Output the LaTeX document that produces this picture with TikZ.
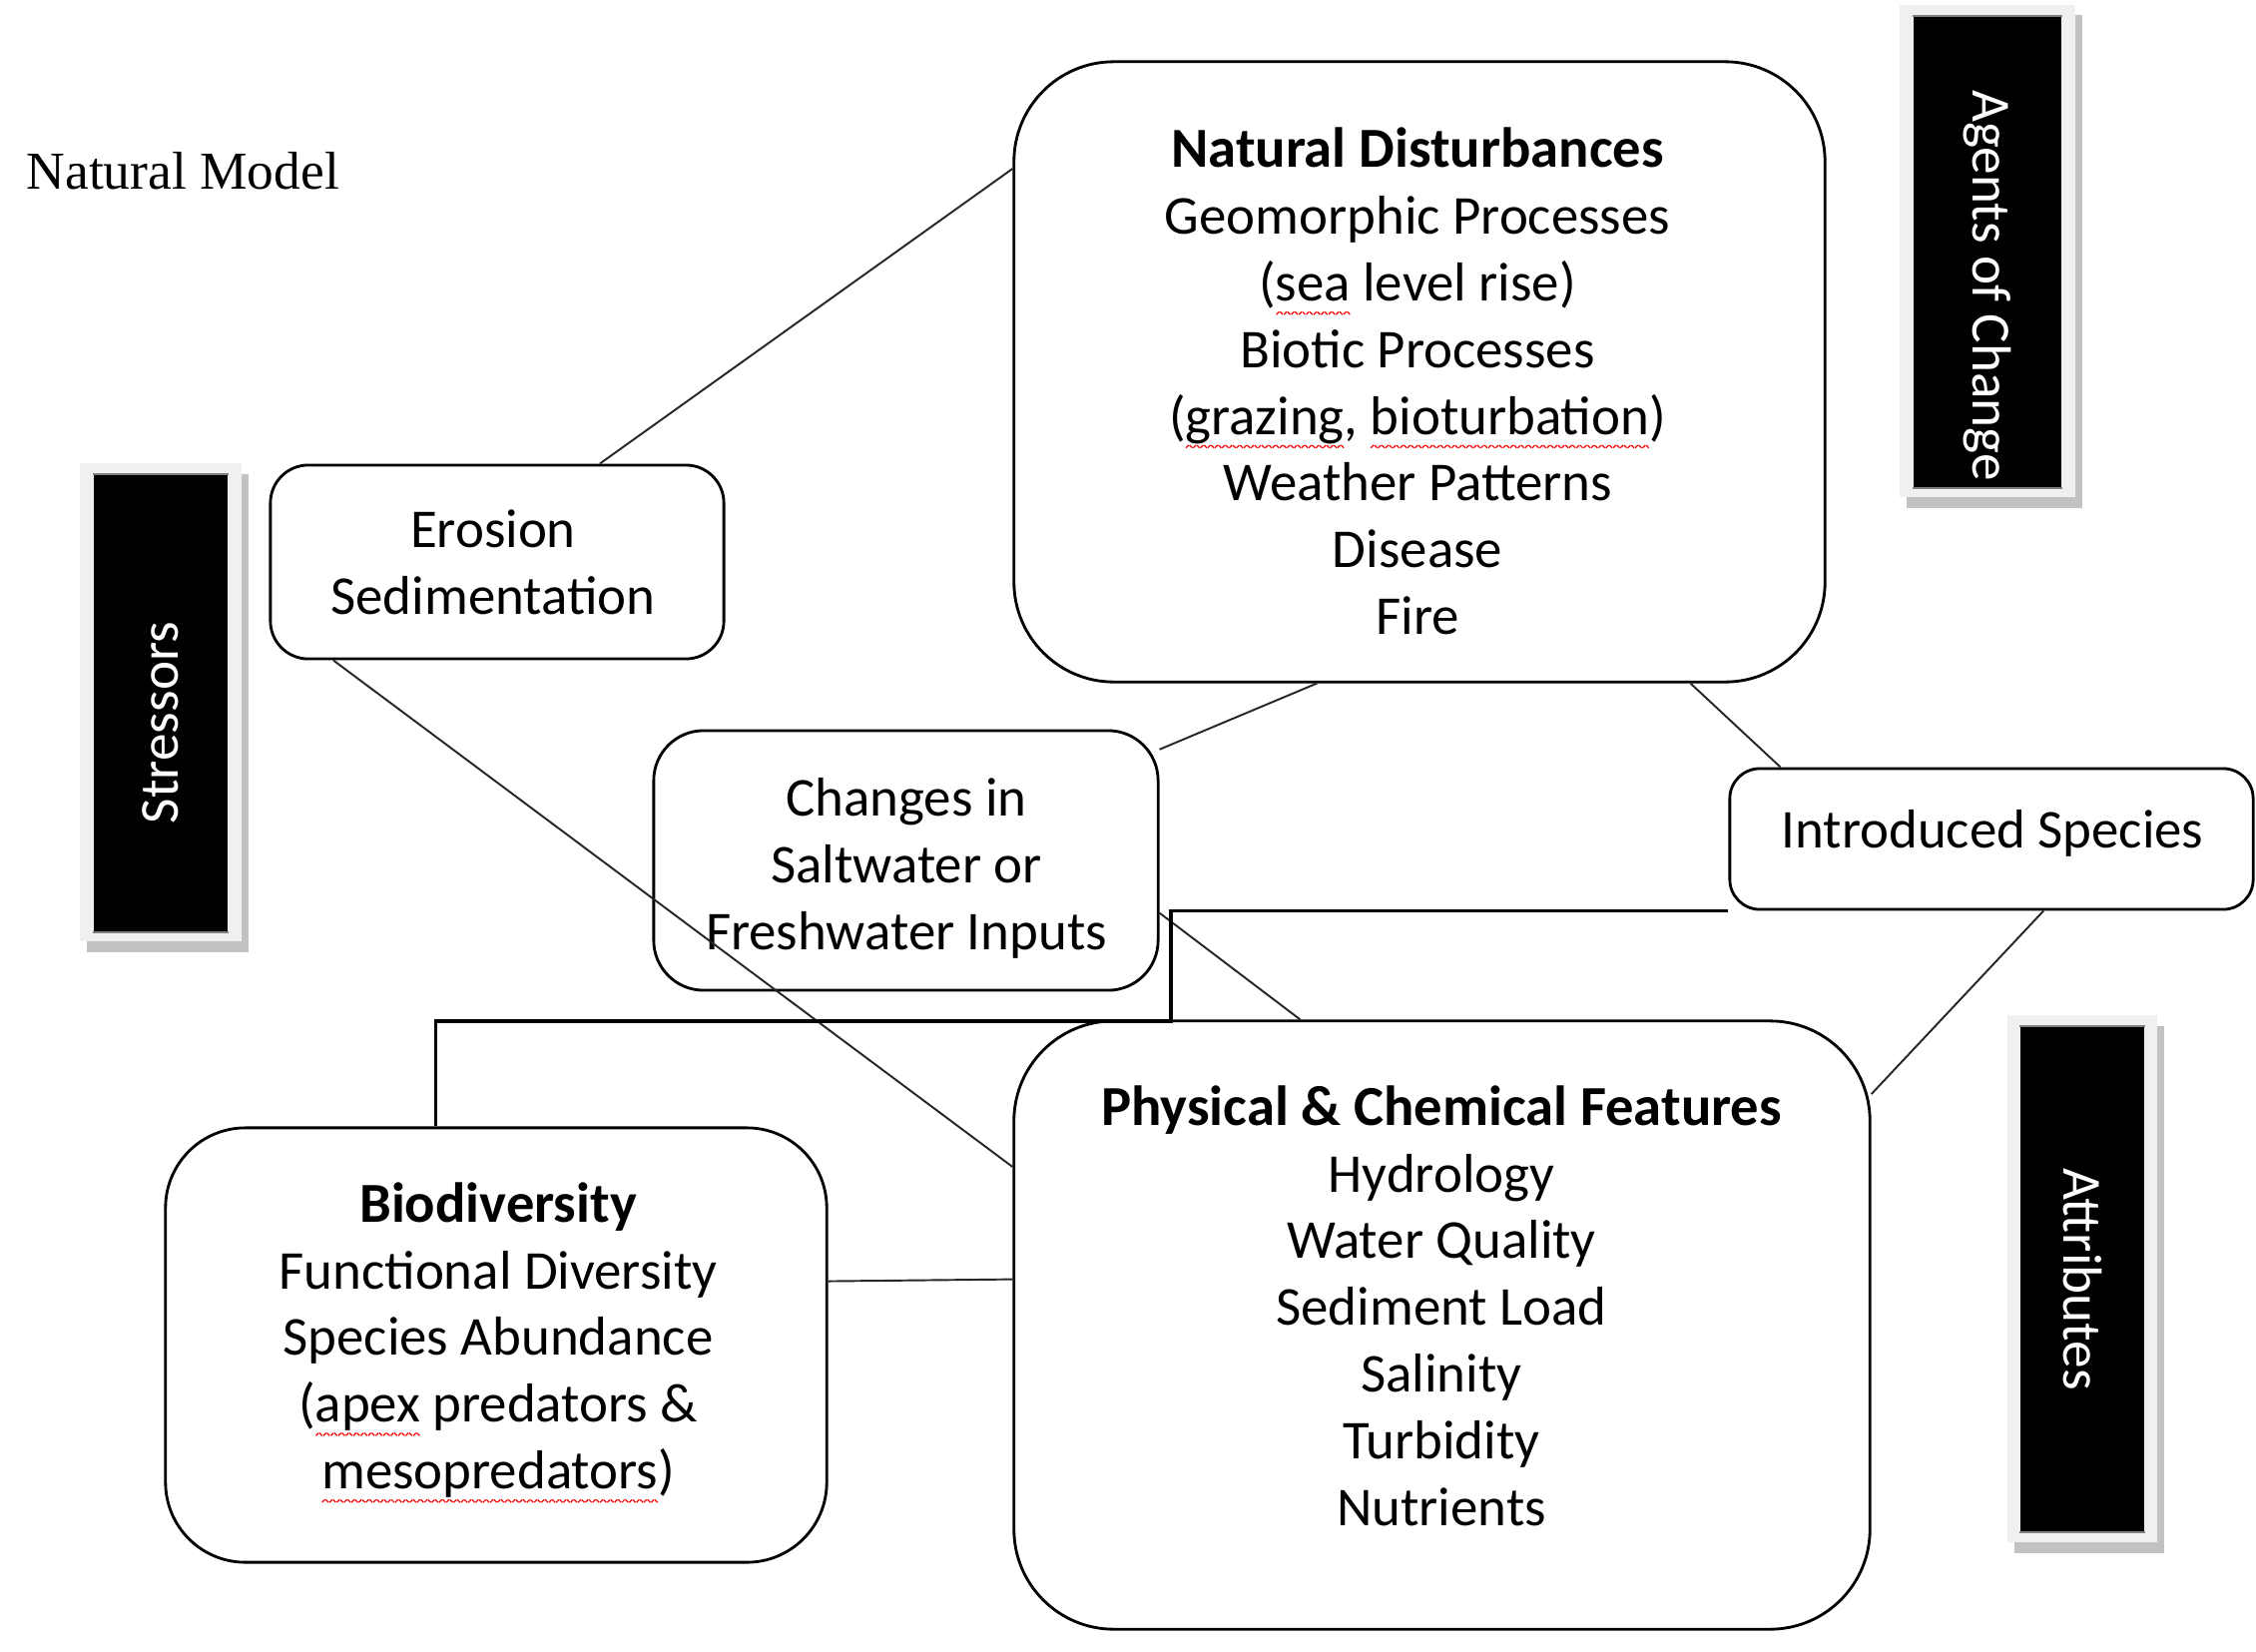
\documentclass[tikz,border=0pt]{standalone}
\usepackage{fontspec}
\setmainfont{Carlito}
\newfontfamily\timesf{Liberation Serif}
\usetikzlibrary{calc}
\newsavebox\wavebox
\newsavebox\sqbox
\newcommand\wavepiece{\rule{1.1pt}{0.35pt}}
\newcommand\sqg[1]{\sbox\sqbox{#1}\leavevmode\rlap{\raisebox{-4pt}{\hbox to\wd\sqbox{\xleaders\copy\wavebox\hfill}}}\usebox\sqbox}
\newcommand\hd[1]{{\fontsize{16.1}{19}\selectfont\bfseries #1}}
\tikzset{
  box/.style={draw=black, line width=0.8pt, inner sep=0pt},
  txt/.style={align=center, font=\fontsize{15.6}{19}\selectfont, inner sep=0pt},
  conn/.style={line width=0.55pt, draw=black!85},
  elbow/.style={line width=1pt, draw=black},
  blk/.style={fill=black, inner sep=0pt},
  frm/.style={fill=black!6, inner sep=0pt},
  shd/.style={fill=black!24, inner sep=0pt},
  edge/.style={draw=black!50, line width=0.6pt},
  rottxt/.style={text=white, font=\fontsize{15.7}{19}\selectfont, inner sep=0pt}
}
\begin{document}
\sbox\wavebox{\color{red}\rotatebox{45}{\wavepiece}\raisebox{0.78pt}{\rotatebox{-45}{\wavepiece}}}%
\begin{tikzpicture}[x=0.01cm, y=-0.01cm]
\useasboundingbox (0,0) rectangle (2260,1654);

% title
\node[anchor=base west, inner sep=0pt, font=\timesf\fontsize{15.2}{18}\selectfont] (title) at (26,189) {Natural Model};

% black label boxes
\node[shd, minimum width=1.76cm, minimum height=4.94cm] (agshd) at (1998,262) {};
\node[frm, minimum width=1.76cm, minimum height=4.93cm] (agfrm) at (1991,251.5) {};
\node[blk, minimum width=1.48cm, minimum height=4.71cm] (ag) at (1991,252.5) {};
\draw[edge] (ag.north west) -- (ag.north east);
\draw[edge] (ag.south west) -- (ag.south east);
\node[rottxt, rotate=-90] (agt) at (1991,286) {Agents of Change};

\node[shd, minimum width=1.62cm, minimum height=4.79cm] (stshd) at (168,714.5) {};
\node[frm, minimum width=1.62cm, minimum height=4.79cm] (stfrm) at (161,703.5) {};
\node[blk, minimum width=1.34cm, minimum height=4.57cm] (st) at (161,704.5) {};
\draw[edge] (st.north west) -- (st.north east);
\draw[edge] (st.south west) -- (st.south east);
\node[rottxt, rotate=90] (stt) at (161,724) {Stressors};

\node[shd, minimum width=1.50cm, minimum height=5.28cm] (atshd) at (2093,1292) {};
\node[frm, minimum width=1.50cm, minimum height=5.28cm] (atfrm) at (2086,1281) {};
\node[blk, minimum width=1.24cm, minimum height=5.05cm] (at) at (2086,1281.5) {};
\draw[edge] (at.north west) -- (at.north east);
\draw[edge] (at.south west) -- (at.south east);
\node[rottxt, rotate=-90] (att) at (at.center) {Attributes};

% rounded boxes
\node[box, rounded corners=1cm, minimum width=8.12cm, minimum height=6.21cm] (nd) at (1422,372.5) {};
\node[box, rounded corners=1cm, minimum width=8.57cm, minimum height=6.09cm] (ph) at (1444.5,1327.5) {};
\node[box, rounded corners=0.8cm, minimum width=6.62cm, minimum height=4.35cm] (bio) at (497,1347.5) {};
\node[box, rounded corners=0.38cm, minimum width=4.54cm, minimum height=1.94cm] (er) at (498,563) {};
\node[box, rounded corners=0.5cm, minimum width=5.05cm, minimum height=2.60cm] (ch) at (907.5,862) {};
\node[box, rounded corners=0.3cm, minimum width=5.24cm, minimum height=1.41cm] (in) at (1995,840.5) {};

% texts
\node[txt] (ndt) at (1420,382) {\hd{Natural Disturbances}\\Geomorphic Processes\\(\sqg{sea} level rise)\\Biotic Processes\\(\sqg{grazing}, \sqg{bioturbation})\\Weather Patterns\\Disease\\Fire};
\node[txt] (pht) at (1444,1308) {\hd{Physical \& Chemical Features}\\Hydrology\\Water Quality\\Sediment Load\\Salinity\\Turbidity\\Nutrients};
\node[txt] (biot) at (499,1345) {\hd{Biodiversity}\\Functional Diversity\\Species Abundance\\(\sqg{apex} predators \&\\\sqg{mesopredators})};
\node[txt] (ert) at (494,563) {Erosion\\Sedimentation};
\node[txt] (cht) at (908,870) {Changes in\\Saltwater or\\Freshwater Inputs};
\node[txt] (int) at (1996,835) {Introduced Species};

% connectors
\draw[conn] ($(er.north west)!0.725!(er.north east)$) -- ($(nd.north west)!0.174!(nd.south west)$);
\draw[conn] ($(er.south west)!0.141!(er.south east)$) -- ($(ph.north west)!0.241!(ph.south west)$);
\draw[conn] ($(ch.north east)!0.077!(ch.south east)$) -- ($(nd.south west)!0.374!(nd.south east)$);
\draw[conn] ($(nd.south west)!0.833!(nd.south east)$) -- ($(in.north west)!0.099!(in.north east)$);
\draw[conn] ($(in.south west)!0.599!(in.south east)$) -- ($(ph.north east)!0.122!(ph.south east)$);
\draw[conn] ($(ch.north east)!0.70!(ch.south east)$) -- ($(ph.north west)!0.335!(ph.north east)$);
\draw[conn] ($(bio.north east)!0.354!(bio.south east)$) -- ($(ph.north west)!0.425!(ph.south west)$);

\coordinate (k1) at (1173,1023);
\draw[elbow] ($(bio.north west)!0.409!(bio.north east)$) |- (k1) |- (in.south west);
\end{tikzpicture}
\end{document}
